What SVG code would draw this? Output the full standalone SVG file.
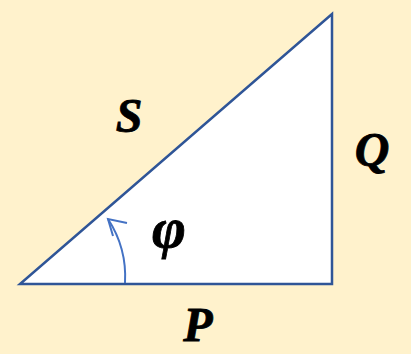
<svg xmlns="http://www.w3.org/2000/svg" width="411" height="354" viewBox="0 0 411 354">
<defs>
<style>
.lbl{font-family:"Liberation Serif","DejaVu Serif",serif;font-weight:bold;font-style:italic;font-size:48px;fill:#000;stroke:#000;stroke-width:0.8px}
</style>
</defs>
<rect width="411" height="354" fill="#FFF2CC"/>
<g id="triangle">
<polygon points="20,284 332,284 332,14" fill="#FFFFFF" stroke="#2F5597" stroke-width="2.5" stroke-linejoin="miter"/>
</g>
<g id="connectors">
<path d="M125,283 A106,106 0 0 0 108,219" fill="none" stroke="#4472C4" stroke-width="2"/>
<path d="M127,223 L108,219 L113,236" fill="none" stroke="#4472C4" stroke-width="2"/>
</g>
<g id="label-S"><text class="lbl" x="129" y="132" text-anchor="middle">S</text></g>
<g id="label-Q"><text class="lbl" x="372" y="166" text-anchor="middle">Q</text></g>
<g id="label-P"><text class="lbl" x="198" y="341" text-anchor="middle">P</text></g>
<g id="label-phi"><text class="lbl" x="169" y="247" text-anchor="middle" style="font-size:58px">φ</text></g>
</svg>
